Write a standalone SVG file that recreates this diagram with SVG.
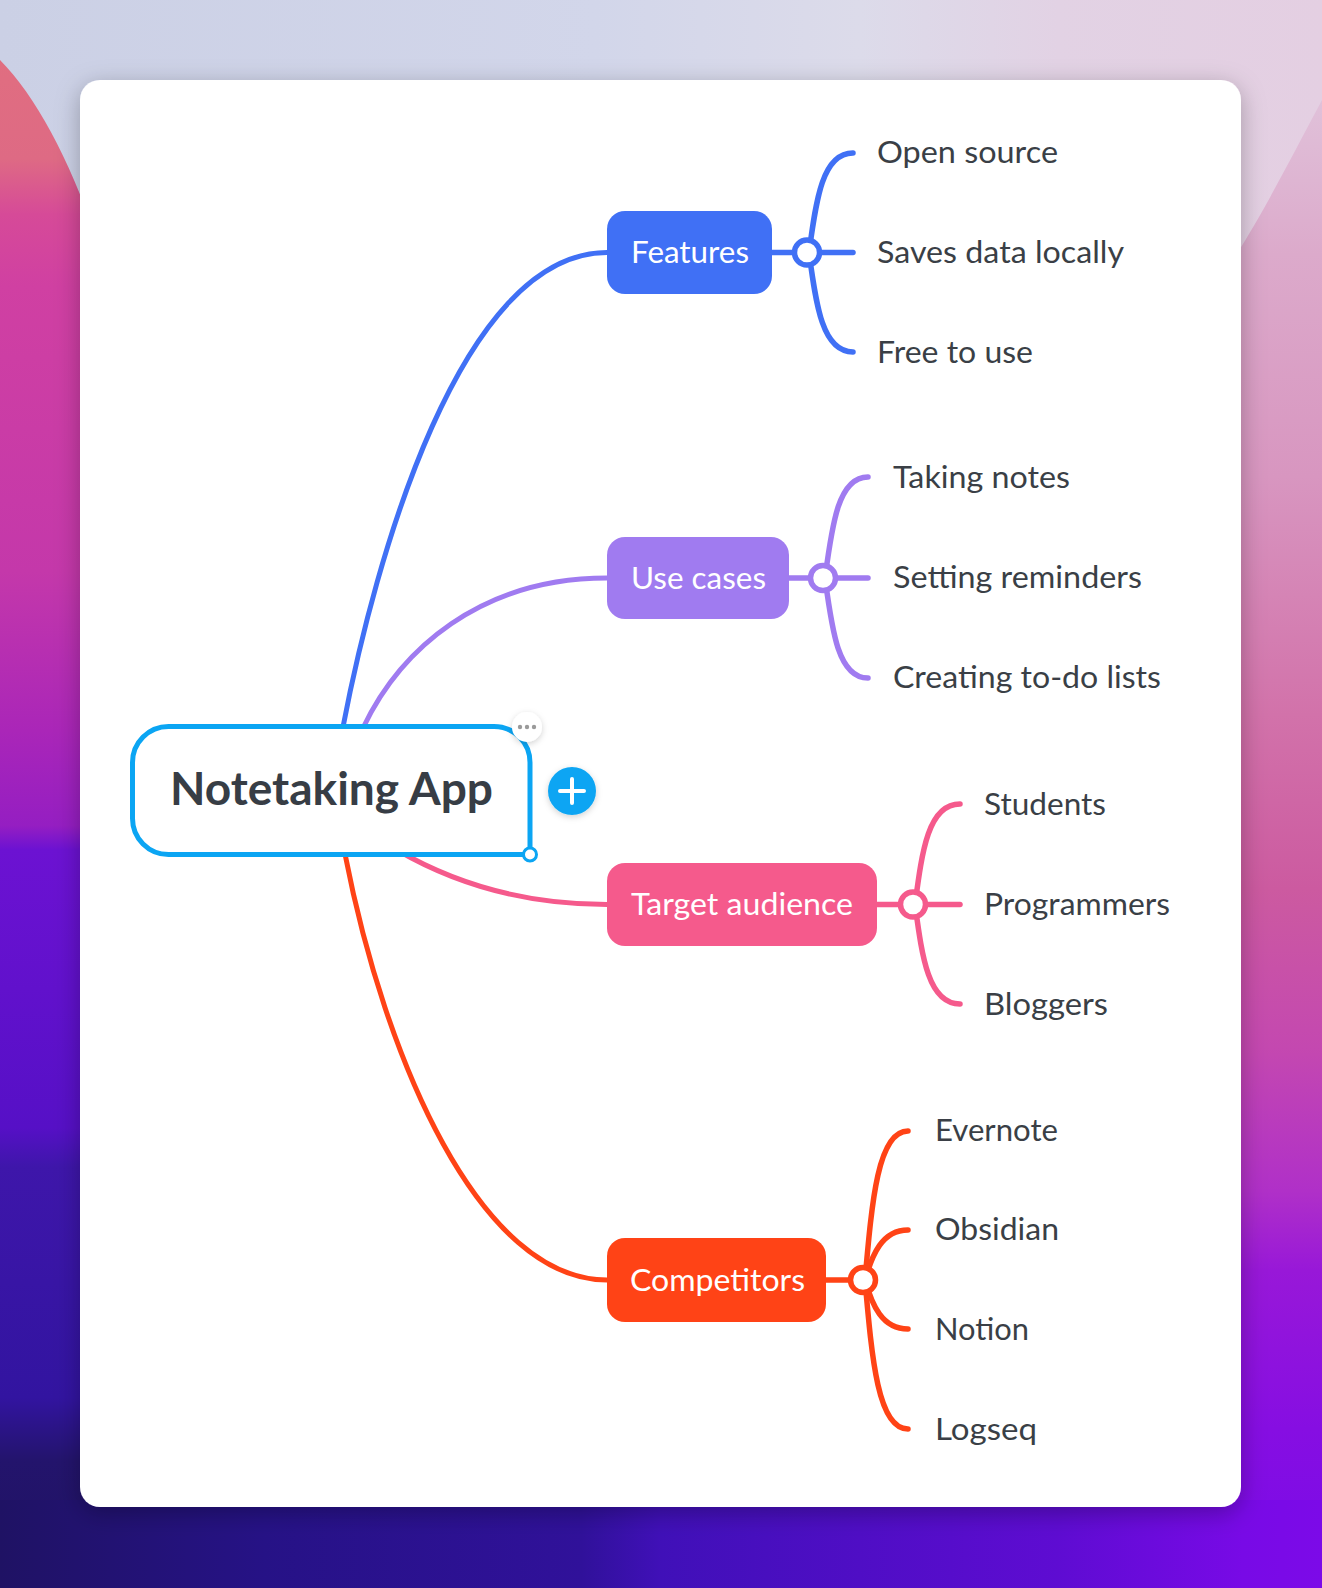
<svg xmlns="http://www.w3.org/2000/svg" width="1322" height="1588" viewBox="0 0 1322 1588">
<defs>
<style>
.leaf{font-family:Lato,"Noto Sans",sans-serif;font-size:30px;fill:#3a3f46}
.lbl{font-family:Lato,"Noto Sans",sans-serif;font-size:31px;fill:#ffffff}
.conn{fill:none;stroke-width:5;stroke-linecap:round}
.br{fill:none;stroke-width:5.5;stroke-linecap:round}
.jn{fill:#ffffff;stroke-width:5.5}
</style>
<linearGradient id="gLeft" x1="0" y1="0" x2="0" y2="1">
<stop offset="0" stop-color="#e2707e"/>
<stop offset="0.1" stop-color="#de6a84"/>
<stop offset="0.135" stop-color="#d64a98"/>
<stop offset="0.18" stop-color="#d040a2"/>
<stop offset="0.36" stop-color="#c438aa"/>
<stop offset="0.46" stop-color="#aa26b8"/>
<stop offset="0.52" stop-color="#951ec2"/>
<stop offset="0.535" stop-color="#6c12d2"/>
<stop offset="0.71" stop-color="#5610c6"/>
<stop offset="0.735" stop-color="#3e16aa"/>
<stop offset="0.88" stop-color="#3214a0"/>
<stop offset="0.92" stop-color="#23146c"/>
<stop offset="1" stop-color="#1f1262"/>
</linearGradient>
<linearGradient id="gRight" x1="0" y1="0" x2="0" y2="1">
<stop offset="0" stop-color="#e3d0e3"/>
<stop offset="0.16" stop-color="#dcaacb"/>
<stop offset="0.3" stop-color="#d896c0"/>
<stop offset="0.45" stop-color="#d272aa"/>
<stop offset="0.56" stop-color="#cc5aa0"/>
<stop offset="0.66" stop-color="#c448b0"/>
<stop offset="0.75" stop-color="#b030c8"/>
<stop offset="0.8" stop-color="#9818d8"/>
<stop offset="0.9" stop-color="#860ee2"/>
<stop offset="1" stop-color="#780ae8"/>
</linearGradient>
<linearGradient id="gTop" x1="0" y1="0" x2="1" y2="0">
<stop offset="0" stop-color="#cbd0e5"/>
<stop offset="0.45" stop-color="#d2d6ea"/>
<stop offset="0.65" stop-color="#dcdbea"/>
<stop offset="0.8" stop-color="#e2d2e4"/>
<stop offset="1" stop-color="#e4cfe2"/>
</linearGradient>
<linearGradient id="gBottom" x1="0" y1="0" x2="1" y2="0">
<stop offset="0" stop-color="#1f1264"/>
<stop offset="0.2" stop-color="#261286"/>
<stop offset="0.44" stop-color="#30119a"/>
<stop offset="0.5" stop-color="#4010b8"/>
<stop offset="0.8" stop-color="#5e0cd2"/>
<stop offset="0.94" stop-color="#780ae6"/>
<stop offset="1" stop-color="#7c0ae8"/>
</linearGradient>
<filter id="cardShadow" x="-10%" y="-10%" width="120%" height="120%">
<feDropShadow dx="0" dy="6" stdDeviation="12" flood-color="#000000" flood-opacity="0.28"/>
</filter>
<filter id="softShadow" x="-50%" y="-50%" width="200%" height="200%">
<feDropShadow dx="0" dy="2" stdDeviation="3" flood-color="#000000" flood-opacity="0.18"/>
</filter>
</defs>

<g id="background">
<rect x="0" y="0" width="1322" height="1588" fill="#8a2ac0"/>
<rect x="0" y="0" width="120" height="1588" fill="url(#gLeft)"/>
<rect x="1200" y="0" width="122" height="1588" fill="url(#gRight)"/>
<path d="M0 0 H1322 V100 C1290 160 1262 215 1236 255 V90 H95 V235 C70 160 35 95 0 60 Z" fill="url(#gTop)"/>
<rect x="0" y="1500" width="1322" height="88" fill="url(#gBottom)"/>
</g>

<rect id="card" x="80" y="80" width="1161" height="1427" rx="20" ry="20" fill="#ffffff" filter="url(#cardShadow)"/>

<g id="connectors">
<path class="conn" stroke="#4070f5" d="M343 727 C375 560 460 252.5 607 252.5"/>
<path class="conn" stroke="#a07bf0" d="M363 728 C400 650 480 578 607 578"/>
<path class="conn" stroke="#f55a8c" d="M397 850 C440 875 510 904.5 607 904.5"/>
<path class="conn" stroke="#ff4316" d="M345 854 C385 1060 480 1280 607 1280"/>

<path class="br" stroke="#4070f5" d="M809 252.5 C816 200.8 822 153 853 153"/>
<path class="br" stroke="#4070f5" d="M809 252.5 C816 304 822 352 853 352"/>
<path class="br" stroke="#4070f5" d="M772 252.5 H853"/>
<circle class="jn" stroke="#4070f5" cx="807" cy="252.5" r="12.5"/>

<path class="br" stroke="#a07bf0" d="M825 578 C832 525.5 838 477 868 477"/>
<path class="br" stroke="#a07bf0" d="M825 578 C832 630 838 678 868 678"/>
<path class="br" stroke="#a07bf0" d="M789 578 H868"/>
<circle class="jn" stroke="#a07bf0" cx="823" cy="578" r="12.5"/>

<path class="br" stroke="#f55a8c" d="M915 904.5 C922 851.7 928 804 960 804"/>
<path class="br" stroke="#f55a8c" d="M915 904.5 C922 956 928 1004 960 1004"/>
<path class="br" stroke="#f55a8c" d="M877 904.5 H960"/>
<circle class="jn" stroke="#f55a8c" cx="913" cy="904.5" r="12.5"/>

<path class="br" stroke="#ff4316" d="M865 1280 C872 1200 878 1131 908 1131"/>
<path class="br" stroke="#ff4316" d="M865 1280 C872 1360 878 1429 908 1429"/>
<path class="br" stroke="#ff4316" d="M865 1280 C872 1255 882 1230 908 1230"/>
<path class="br" stroke="#ff4316" d="M865 1280 C872 1305 882 1329 908 1329"/>
<path class="br" stroke="#ff4316" d="M826 1280 H863"/>
<circle class="jn" stroke="#ff4316" cx="863" cy="1280" r="12.5"/>
</g>

<g id="node-root">
<path d="M168.5 726.5 H494 A36 36 0 0 1 530 762.5 V854.5 H168.5 A36 36 0 0 1 132.5 818.5 V762.5 A36 36 0 0 1 168.5 726.5 Z" fill="#ffffff" stroke="#0ba5f3" stroke-width="5"/>
<text x="170" y="805" font-family="Lato,'Noto Sans',sans-serif" font-size="45" font-weight="bold" fill="#373d45" textLength="323" lengthAdjust="spacingAndGlyphs">Notetaking App</text>
<circle cx="527" cy="727" r="15" fill="#ffffff" filter="url(#softShadow)"/>
<circle cx="520" cy="727" r="2.2" fill="#9a9a9a"/>
<circle cx="527" cy="727" r="2.2" fill="#9a9a9a"/>
<circle cx="534" cy="727" r="2.2" fill="#9a9a9a"/>
<circle cx="530" cy="854.5" r="6.5" fill="#ffffff" stroke="#0ba5f3" stroke-width="3"/>
<circle cx="572" cy="791" r="24" fill="#0ba5f3" filter="url(#softShadow)"/>
<path d="M560 791 H584 M572 779 V803" stroke="#ffffff" stroke-width="4" stroke-linecap="round"/>
</g>

<g id="node-features">
<rect x="607" y="211" width="165" height="83" rx="18" fill="#4070f5"/>
<text class="lbl" x="631" y="263" textLength="118" lengthAdjust="spacingAndGlyphs">Features</text>
</g>
<g id="node-usecases">
<rect x="607" y="537" width="182" height="82" rx="18" fill="#a07bf0"/>
<text class="lbl" x="631" y="589" textLength="135" lengthAdjust="spacingAndGlyphs">Use cases</text>
</g>
<g id="node-target">
<rect x="607" y="863" width="270" height="83" rx="18" fill="#f55a8c"/>
<text class="lbl" x="631" y="915" textLength="222" lengthAdjust="spacingAndGlyphs">Target audience</text>
</g>
<g id="node-competitors">
<rect x="607" y="1238" width="219" height="84" rx="18" fill="#ff4316"/>
<text class="lbl" x="630" y="1291" textLength="175" lengthAdjust="spacingAndGlyphs">Competitors</text>
</g>

<g id="leaf-open-source"><text class="leaf" x="877" y="163" textLength="181" lengthAdjust="spacingAndGlyphs">Open source</text></g>
<g id="leaf-saves-data"><text class="leaf" x="877" y="262.5" textLength="247" lengthAdjust="spacingAndGlyphs">Saves data locally</text></g>
<g id="leaf-free"><text class="leaf" x="877" y="363" textLength="156" lengthAdjust="spacingAndGlyphs">Free to use</text></g>

<g id="leaf-taking-notes"><text class="leaf" x="893" y="488" textLength="177" lengthAdjust="spacingAndGlyphs">Taking notes</text></g>
<g id="leaf-reminders"><text class="leaf" x="893" y="588" textLength="249" lengthAdjust="spacingAndGlyphs">Setting reminders</text></g>
<g id="leaf-todo"><text class="leaf" x="893" y="688" textLength="268" lengthAdjust="spacingAndGlyphs">Creating to-do lists</text></g>

<g id="leaf-students"><text class="leaf" x="984" y="815" textLength="122" lengthAdjust="spacingAndGlyphs">Students</text></g>
<g id="leaf-programmers"><text class="leaf" x="984" y="915" textLength="186" lengthAdjust="spacingAndGlyphs">Programmers</text></g>
<g id="leaf-bloggers"><text class="leaf" x="984" y="1015" textLength="124" lengthAdjust="spacingAndGlyphs">Bloggers</text></g>

<g id="leaf-evernote"><text class="leaf" x="935" y="1141" textLength="123" lengthAdjust="spacingAndGlyphs">Evernote</text></g>
<g id="leaf-obsidian"><text class="leaf" x="935" y="1240" textLength="124" lengthAdjust="spacingAndGlyphs">Obsidian</text></g>
<g id="leaf-notion"><text class="leaf" x="935" y="1340" textLength="94" lengthAdjust="spacingAndGlyphs">Notion</text></g>
<g id="leaf-logseq"><text class="leaf" x="935" y="1440" textLength="102" lengthAdjust="spacingAndGlyphs">Logseq</text></g>
</svg>
